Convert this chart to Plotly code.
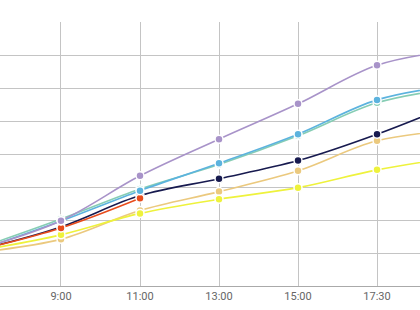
import plotly.graph_objects as go

times = ["7:00", "9:00", "11:00", "13:00", "15:00", "17:30", "19:00"]

purple = [11.5, 19.8, 33.4, 44.5, 55.2, 66.9, 71.5]
blue = [11.2, 19.7, 28.9, 37.2, 46.0, 56.4, 60.9]
teal = [11.8, 20.3, 29.4, 36.8, 45.5, 55.5, 60.0]
navy = [11.2, 17.9, 27.4, 32.5, 38.0, 46.0, 55.5]
tan = [10.3, 14.2, 22.9, 28.6, 34.9, 44.0, 47.3]
yellow = [10.9, 15.5, 22.0, 26.3, 29.8, 35.2, 39.1]
orange = [11.2, 17.6, 26.6]

series = [
    ("tan", tan, "#ebc97e"),
    ("yellow", yellow, "#eef23c"),
    ("teal", teal, "#86cdb4"),
    ("navy", navy, "#171a4f"),
    ("orange", orange, "#e84c1c"),
    ("blue", blue, "#5cb3de"),
    ("purple", purple, "#a893c9"),
]

fig = go.Figure()
for name, vals, color in series:
    fig.add_trace(go.Scatter(
        x=times[:len(vals)], y=vals, name=name, mode="lines+markers",
        line=dict(color=color, width=1.6, shape="spline", smoothing=1),
        marker=dict(size=8, color=color, line=dict(color="white", width=1.5)),
        cliponaxis=True,
    ))

fig.update_layout(
    width=420, height=310,
    margin=dict(l=0, r=0, t=22, b=24),
    paper_bgcolor="white", plot_bgcolor="white",
    showlegend=False,
    font=dict(family="Roboto", size=11, color="#666"),
)
fig.update_xaxes(
    type="category", categoryorder="array", categoryarray=times,
    range=[0.228, 5.544],
    showgrid=True, gridcolor="#c4c4c4", gridwidth=1,
    showline=True, linecolor="#aaaaaa", linewidth=1,
    ticks="", tickfont=dict(size=11, color="#666"),
    zeroline=False, fixedrange=True,
)
fig.update_yaxes(
    range=[0, 80], dtick=10,
    showgrid=True, gridcolor="#c4c4c4", gridwidth=1,
    showticklabels=False, zeroline=False, showline=False,
    fixedrange=True,
)

fig.write_html("out.html")
